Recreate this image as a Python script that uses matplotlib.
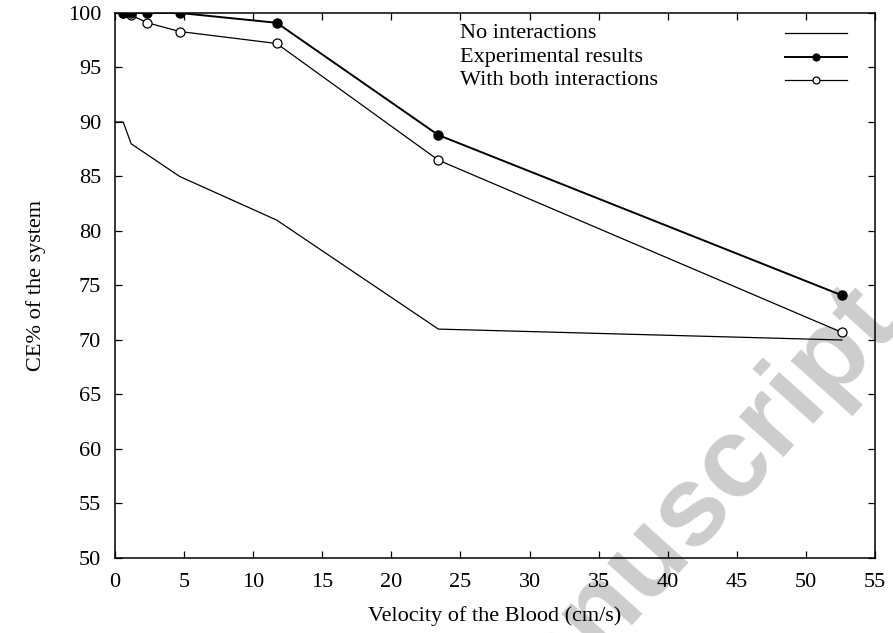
import matplotlib
matplotlib.use("Agg")
import matplotlib.pyplot as plt
from matplotlib.lines import Line2D

plt.rcParams['font.family'] = ['Liberation Serif', 'DejaVu Serif']
plt.rcParams['font.size'] = 16

# Velocity of the blood (cm/s)
vel_none = [0.0, 0.59, 1.17, 4.68, 11.7, 23.4, 52.6]
ce_none = [90, 90, 88, 85, 81, 71, 70]

vel_exp = [0.59, 1.17, 2.34, 4.68, 11.7, 23.4, 52.6]
ce_exp = [100, 100, 100, 100, 99.1, 88.8, 74.1]

vel_both = [0.59, 1.17, 2.34, 4.68, 11.7, 23.4, 52.6]
ce_both = [100, 99.8, 99.1, 98.3, 97.2, 86.5, 70.7]

labels = ["No interactions", "Experimental results", "With both interactions"]

fig = plt.figure(figsize=(8.93, 6.33), dpi=100)
ax = fig.add_axes([0.1288, 0.1185, 0.851, 0.861])
ax.patch.set_visible(False)

# watermark behind everything (only part of it shows, like the original page crop)
fig.text(1.01, 0.485, "Accepted Manuscript", family='Liberation Sans', weight='bold',
         fontsize=82, color='#cdcdcd', rotation=48, rotation_mode='anchor',
         ha='right', va='baseline', zorder=-5)

ax.plot(vel_none, ce_none, color='black', lw=0.9)
ax.plot(vel_both, ce_both, color='black', lw=0.9, marker='o', ms=6.5,
        mfc='white', mec='black', mew=0.9)
ax.plot(vel_exp, ce_exp, color='black', lw=1.4, marker='o', ms=6.5,
        mfc='black', mec='black')

ax.set_xlim(0, 55)
ax.set_ylim(50, 100)
ax.set_xticks(range(0, 56, 5))
ax.set_yticks(range(50, 101, 5))
ax.tick_params(direction='in', length=5, width=0.9, top=True, right=True)
ax.tick_params(axis='x', pad=11)
ax.tick_params(axis='y', pad=10)
for s in ax.spines.values():
    s.set_linewidth(1.1)

ax.set_xlabel("Velocity of the Blood (cm/s)", labelpad=10)
ax.set_ylabel("CE% of the system", labelpad=16)

# gnuplot-style key: text left, sample on the right
rows = [0.963, 0.919, 0.877]
styles = [dict(lw=0.9, marker=None),
          dict(lw=1.4, marker='o', mfc='black'),
          dict(lw=0.9, marker='o', mfc='white')]
for lab, yy, st in zip(labels, rows, styles):
    ax.text(0.454, yy, lab, transform=ax.transAxes, va='center', ha='left')
    ax.add_line(Line2D([0.882, 0.963], [yy, yy], transform=ax.transAxes,
                       color='black', lw=st['lw']))
    if st['marker']:
        ax.add_line(Line2D([0.922], [yy], transform=ax.transAxes, color='black',
                           marker='o', ms=5, mfc=st['mfc'], mec='black', mew=0.9))

fig.savefig("out.png", dpi=100)
